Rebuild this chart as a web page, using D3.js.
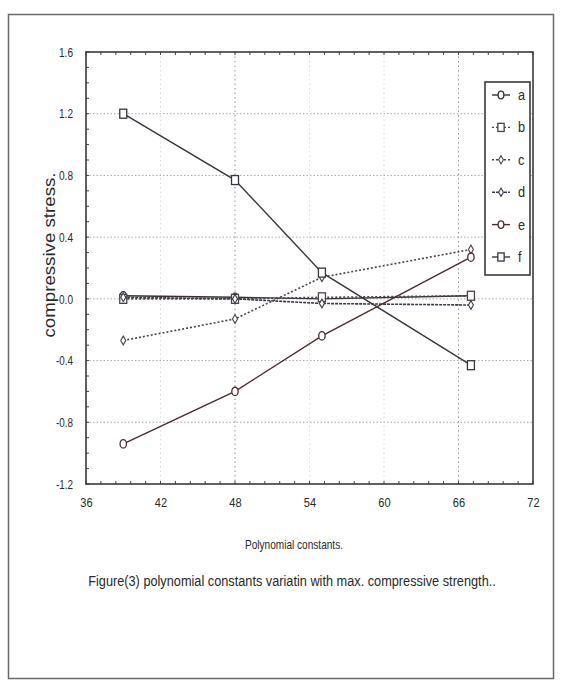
<!DOCTYPE html>
<html>
<head>
<meta charset="utf-8">
<script src="https://cdn.jsdelivr.net/npm/d3@7"></script>
<style>
  body { margin: 0; background: #fff; }
  text { font-family: "Liberation Sans", Arial, sans-serif; fill: #2a2a2a; }
</style>
</head>
<body>
<div id="chart"></div>
<script>
// data
const xValues = [39, 48, 55, 67];
const seriesNames = ["a", "b", "c", "d", "e", "f"];
const seriesA = [0.02, 0.01, 0.00, 0.02];
const seriesB = [0.00, 0.00, 0.01, 0.02];
const seriesC = [-0.27, -0.13, 0.14, 0.32];
const seriesD = [0.01, 0.00, -0.03, -0.04];
const seriesE = [-0.94, -0.60, -0.24, 0.27];
const seriesF = [1.20, 0.77, 0.17, -0.43];
const xTicks = [36, 42, 48, 54, 60, 66, 72];
const yTicks = [-1.2, -0.8, -0.4, 0.0, 0.4, 0.8, 1.2, 1.6];

const allSeries = [seriesA, seriesB, seriesC, seriesD, seriesE, seriesF];

// look of each series (marker, dashing, colour)
const styles = {
    a: {marker: "circle", dash: null, color: "#3a3036"},
    b: {marker: "square", dash: "2,2", color: "#4a4448"},
    c: {marker: "diamond", dash: "2,2", color: "#4a4448"},
    d: {marker: "diamond", dash: "3,1", color: "#3c3a48"},
    e: {marker: "circle", dash: null, color: "#4a2e2e"},
    f: {marker: "square", dash: null, color: "#3a3440"}
};

const W = 564, H = 681;
const margin = {top: 52, right: 31, bottom: 197, left: 86};
const width = W - margin.left - margin.right;
const height = H - margin.top - margin.bottom;

const svg = d3.select("#chart").append("svg")
    .attr("width", W)
    .attr("height", H);

// outer frame of the scanned figure
svg.append("rect")
    .attr("x", 8.5).attr("y", 14.5)
    .attr("width", 545).attr("height", 664)
    .attr("fill", "none")
    .attr("stroke", "#6a6a6a")
    .attr("stroke-width", 1.5);

const g = svg.append("g")
    .attr("transform", "translate(" + margin.left + "," + margin.top + ")");

const x = d3.scaleLinear().domain([36, 72]).range([0, width]);
const y = d3.scaleLinear().domain([-1.2, 1.6]).range([height, 0]);

// dotted grid
g.append("g")
    .selectAll("line")
    .data(yTicks.slice(1, -1))
    .enter().append("line")
    .attr("x1", 0).attr("x2", width)
    .attr("y1", d => y(d)).attr("y2", d => y(d))
    .attr("stroke", "#a0a0a0")
    .attr("stroke-dasharray", "1.5,2")
    .attr("stroke-width", 0.9);

g.append("g")
    .selectAll("line")
    .data(xTicks.slice(1, -1))
    .enter().append("line")
    .attr("x1", d => x(d)).attr("x2", d => x(d))
    .attr("y1", 0).attr("y2", height)
    .attr("stroke", d => (d === 48 || d === 66) ? "#8a8a8a" : "#d8d8d8")
    .attr("stroke-dasharray", "1.5,3")
    .attr("stroke-width", 0.9);

// axes (labels narrowed to look like the condensed face of the scan)
const fmtY = d => d.toFixed(1);
const xAxis = d3.axisBottom(x).tickValues(xTicks).tickSize(0).tickPadding(14)
    .tickFormat(d3.format("d"));
const yAxis = d3.axisLeft(y).tickValues(yTicks).tickSize(0).tickPadding(13)
    .tickFormat(fmtY);

g.append("g")
    .attr("transform", "translate(0," + height + ")")
    .call(xAxis)
    .call(a => a.select(".domain").remove())
    .selectAll("text")
    .style("font-size", "13px")
    .attr("transform", "scale(0.85,1)");

g.append("g")
    .call(yAxis)
    .call(a => a.select(".domain").remove())
    .selectAll("text")
    .style("font-size", "13px")
    .attr("textLength", d => fmtY(d).length > 3 ? 17 : 14)
    .attr("lengthAdjust", "spacingAndGlyphs");

// minor ticks on the frame
const xMinor = d3.range(36, 72.01, 1.2);
const yMinor = d3.range(-1.2, 1.601, 0.1);
g.append("g").selectAll("line").data(xMinor).enter().append("line")
    .attr("x1", d => x(d)).attr("x2", d => x(d))
    .attr("y1", height).attr("y2", height - 3)
    .attr("stroke", "#444");
g.append("g").selectAll("line").data(xMinor).enter().append("line")
    .attr("x1", d => x(d)).attr("x2", d => x(d))
    .attr("y1", 0).attr("y2", 3)
    .attr("stroke", "#444");
g.append("g").selectAll("line").data(yMinor).enter().append("line")
    .attr("x1", 0).attr("x2", 3)
    .attr("y1", d => y(d)).attr("y2", d => y(d))
    .attr("stroke", "#444");

g.append("rect")
    .attr("width", width).attr("height", height)
    .attr("fill", "none")
    .attr("stroke", "#3a3a3a")
    .attr("stroke-width", 1.6);

// markers
function drawMarker(sel, type, cx, cy, color, s) {
    if (type === "circle") {
        sel.append("ellipse").attr("cx", cx).attr("cy", cy)
            .attr("rx", 3.2 * s).attr("ry", 4.2 * s)
            .attr("fill", "#fff").attr("stroke", color).attr("stroke-width", 1.3);
    } else if (type === "square") {
        sel.append("rect").attr("x", cx - 3.5 * s).attr("y", cy - 4.5 * s)
            .attr("width", 7 * s).attr("height", 9 * s)
            .attr("fill", "#fff").attr("stroke", color).attr("stroke-width", 1.3);
    } else {
        sel.append("path")
            .attr("d", d3.symbol().type(d3.symbolDiamond).size(22 * s)())
            .attr("transform", "translate(" + cx + "," + cy + ")")
            .attr("fill", "#fff").attr("stroke", color).attr("stroke-width", 1.1);
    }
}

const line = d3.line()
    .x((d, i) => x(xValues[i]))
    .y(d => y(d));

seriesNames.forEach(function (name, k) {
    const st = styles[name];
    const vals = allSeries[k];
    g.append("path")
        .datum(vals)
        .attr("d", line)
        .attr("fill", "none")
        .attr("stroke", st.color)
        .attr("stroke-width", st.dash ? 1.6 : 1.4)
        .attr("stroke-dasharray", st.dash);
    const mg = g.append("g");
    vals.forEach(function (v, i) {
        drawMarker(mg, st.marker, x(xValues[i]), y(v), st.color, 1);
    });
});

// legend
const legend = svg.append("g").attr("transform", "translate(485,82)");
legend.append("rect")
    .attr("width", 45).attr("height", 193)
    .attr("fill", "#fff")
    .attr("stroke", "#3a3a3a")
    .attr("stroke-width", 1.6);

seriesNames.forEach(function (name, k) {
    const st = styles[name];
    const ly = 13 + k * 32.4;
    const row = legend.append("g");
    row.append("line")
        .attr("x1", 7).attr("x2", 25)
        .attr("y1", ly).attr("y2", ly)
        .attr("stroke", st.color)
        .attr("stroke-width", 1.4)
        .attr("stroke-dasharray", st.dash);
    drawMarker(row, st.marker, 16, ly, st.color, 0.9);
    row.append("text")
        .attr("x", 33).attr("y", ly + 5)
        .style("font-size", "15px")
        .attr("transform", "translate(" + (33 * 0.15) + ",0) scale(0.85,1)")
        .text(name);
});

// axis titles and caption
svg.append("text")
    .attr("transform", "translate(55,255) rotate(-90)")
    .attr("text-anchor", "middle")
    .style("font-size", "17px")
    .attr("textLength", 165)
    .attr("lengthAdjust", "spacingAndGlyphs")
    .text("compressive stress.");

svg.append("text")
    .attr("x", 294).attr("y", 549)
    .attr("text-anchor", "middle")
    .style("font-size", "13px")
    .attr("textLength", 98)
    .attr("lengthAdjust", "spacingAndGlyphs")
    .text("Polynomial constants.");

svg.append("text")
    .attr("transform", "translate(292,586) scale(0.91,1.1)")
    .attr("text-anchor", "middle")
    .style("font-size", "14px")
    .text("Figure(3) polynomial constants variatin with max. compressive strength..");
</script>
</body>
</html>
